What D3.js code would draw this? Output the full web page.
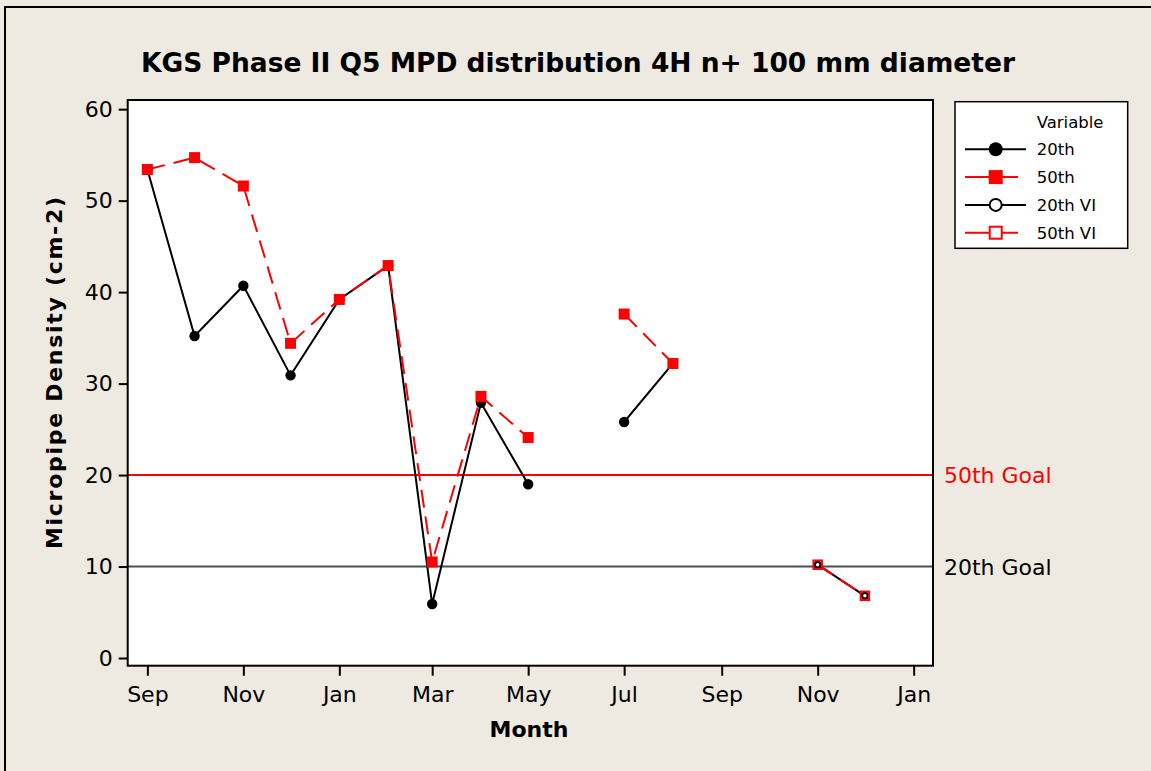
<!DOCTYPE html>
<html>
  <head>
    <meta charset="utf-8">
    <title>KGS Phase II Q5 MPD distribution</title>
    <script src="https://cdn.jsdelivr.net/npm/d3@7"></script>
    <style>
      body { margin: 0; background: #eeeae1; }
      svg { display: block; font-family: "DejaVu Sans", sans-serif; }
    </style>
  </head>

  <body>
    <div id="chart"></div>

    <script>
      // data
      const months = ["2008-09-01", "2008-10-01", "2008-11-01", "2008-12-01", "2009-01-01", "2009-02-01",
                      "2009-03-01", "2009-04-01", "2009-05-01", "2009-06-01", "2009-07-01", "2009-08-01"];
      const p20 = [53.4, 35.2, 40.7, 30.9, 39.2, 42.9, 5.9, 27.9, 19.0, null, 25.8, 32.2];
      const p50 = [53.4, 54.7, 51.6, 34.4, 39.2, 42.9, 10.5, 28.6, 24.1, null, 37.6, 32.2];
      const viMonths = ["2009-11-01", "2009-12-01"];
      const p20vi = [10.2, 6.8];
      const p50vi = [10.2, 6.8];
      const yTicks = [0, 10, 20, 30, 40, 50, 60];
      const goals = [{ label: "50th Goal", value: 20, colour: "#ff0000" },
                     { label: "20th Goal", value: 10, colour: "#4d4d4d" }];
      const legendNames = ["20th", "50th", "20th VI", "50th VI"];

      const width = 1151, height = 771;
      const plot = { left: 127.7, right: 933, top: 100, bottom: 665.7 };

      const svg = d3.select("#chart")
        .append("svg")
          .attr("width", width)
          .attr("height", height);

      // background + outer frame (top and left only visible)
      svg.append("rect")
        .attr("width", width)
        .attr("height", height)
        .attr("fill", "#eeeae1");
      svg.append("path")
        .attr("d", "M5," + height + "V7H" + width)
        .attr("fill", "none")
        .attr("stroke", "#000")
        .attr("stroke-width", 2);

      // scales
      const x = d3.scaleUtc()
        .domain([new Date(Date.UTC(2008, 7, 19, 12)), new Date(Date.UTC(2010, 0, 13, 7))])
        .range([plot.left, plot.right]);
      const y = d3.scaleLinear()
        .domain([-0.84, 61.0])
        .range([plot.bottom, plot.top]);

      // plot area
      svg.append("rect")
        .attr("x", plot.left)
        .attr("y", plot.top)
        .attr("width", plot.right - plot.left)
        .attr("height", plot.bottom - plot.top)
        .attr("fill", "#fff");

      // axes
      const xAxis = svg.append("g")
        .attr("transform", "translate(0," + plot.bottom + ")")
        .call(d3.axisBottom(x)
          .ticks(d3.utcMonth.every(2))
          .tickFormat(d3.utcFormat("%b"))
          .tickSize(10)
          .tickPadding(11));
      const yAxis = svg.append("g")
        .attr("transform", "translate(" + plot.left + ",0)")
        .call(d3.axisLeft(y)
          .tickValues(yTicks)
          .tickSize(9)
          .tickPadding(6));
      [xAxis, yAxis].forEach(function(a) {
        a.select(".domain").remove();
        a.selectAll(".tick line").attr("stroke", "#000").attr("stroke-width", 2);
        a.selectAll(".tick text")
          .attr("fill", "#000")
          .style("font-family", "DejaVu Sans")
          .style("font-size", "22px");
      });

      // goal lines
      goals.forEach(function(g) {
        svg.append("line")
          .attr("x1", plot.left)
          .attr("x2", plot.right)
          .attr("y1", y(g.value))
          .attr("y2", y(g.value))
          .attr("stroke", g.colour)
          .attr("stroke-width", 2);
        svg.append("text")
          .attr("x", plot.right + 11)
          .attr("y", y(g.value))
          .attr("dy", "0.37em")
          .attr("fill", g.colour == "#ff0000" ? "#ff0000" : "#000")
          .style("font-size", "22px")
          .text(g.label);
      });

      // series
      const main20 = months.map(function(m, i) { return { date: new Date(m), value: p20[i] }; });
      const main50 = months.map(function(m, i) { return { date: new Date(m), value: p50[i] }; });
      const vi20 = viMonths.map(function(m, i) { return { date: new Date(m), value: p20vi[i] }; });
      const vi50 = viMonths.map(function(m, i) { return { date: new Date(m), value: p50vi[i] }; });

      const line = d3.line()
        .defined(function(d) { return d.value != null; })
        .x(function(d) { return x(d.date); })
        .y(function(d) { return y(d.value); });

      const series = [
        { data: main20, colour: "#000", dash: null, marker: "dot" },
        { data: main50, colour: "#ff0000", dash: "18,9", marker: "square" },
        { data: vi20, colour: "#000", dash: null, marker: "ring" },
        { data: vi50, colour: "#ff0000", dash: "18,9", marker: "box" }
      ];

      function drawMarker(g, type, cx, cy, big) {
        let s = big ? 14 : 11;
        if (type == "dot") {
          g.append("circle").attr("cx", cx).attr("cy", cy).attr("r", big ? 7 : 5.2).attr("fill", "#000");
        } else if (type == "square") {
          g.append("rect").attr("x", cx - s / 2).attr("y", cy - s / 2).attr("width", s).attr("height", s)
            .attr("fill", "#ff0000");
        } else if (type == "ring") {
          g.append("circle").attr("cx", cx).attr("cy", cy).attr("r", big ? 6 : 3)
            .attr("fill", "#fff").attr("stroke", "#000").attr("stroke-width", 2);
        } else {
          s = big ? 12 : 8.5;
          g.append("rect").attr("x", cx - s / 2).attr("y", cy - s / 2).attr("width", s).attr("height", s)
            .attr("fill", big ? "#fff" : "none").attr("stroke", "#ff0000").attr("stroke-width", 2);
        }
      }

      series.forEach(function(s) {
        svg.append("path")
          .datum(s.data)
          .attr("d", line)
          .attr("fill", "none")
          .attr("stroke", s.colour)
          .attr("stroke-width", 2)
          .attr("stroke-dasharray", s.dash);
      });
      const markers = svg.append("g");
      series.forEach(function(s) {
        s.data.filter(function(d) { return d.value != null; }).forEach(function(d) {
          drawMarker(markers, s.marker, x(d.date), y(d.value), false);
        });
      });
      // open circle shows inside the open square for the VI points
      vi20.forEach(function(d) {
        markers.append("circle").attr("cx", x(d.date)).attr("cy", y(d.value)).attr("r", 2.5)
          .attr("fill", "#fff").attr("stroke", "#000").attr("stroke-width", 1.5);
      });

      // plot frame
      svg.append("rect")
        .attr("x", plot.left)
        .attr("y", plot.top)
        .attr("width", plot.right - plot.left)
        .attr("height", plot.bottom - plot.top)
        .attr("fill", "none")
        .attr("stroke", "#000")
        .attr("stroke-width", 2);

      // titles
      svg.append("text")
        .attr("x", 578)
        .attr("y", 72)
        .attr("text-anchor", "middle")
        .attr("textLength", 874)
        .attr("lengthAdjust", "spacing")
        .style("font-size", "26.5px")
        .style("font-weight", "bold")
        .text("KGS Phase II Q5 MPD distribution 4H n+ 100 mm diameter");
      svg.append("text")
        .attr("x", 529)
        .attr("y", 737)
        .attr("text-anchor", "middle")
        .style("font-size", "22px")
        .style("font-weight", "bold")
        .text("Month");
      svg.append("text")
        .attr("transform", "translate(62,373) rotate(-90)")
        .attr("text-anchor", "middle")
        .attr("textLength", 352)
        .attr("lengthAdjust", "spacing")
        .style("font-size", "22px")
        .style("font-weight", "bold")
        .text("Micropipe Density (cm-2)");

      // legend
      const legend = svg.append("g");
      legend.append("rect")
        .attr("x", 955)
        .attr("y", 101.7)
        .attr("width", 172.7)
        .attr("height", 146.6)
        .attr("fill", "#fff")
        .attr("stroke", "#000")
        .attr("stroke-width", 1.5);
      legend.append("text")
        .attr("x", 1036.7)
        .attr("y", 128)
        .style("font-size", "16.5px")
        .text("Variable");
      series.forEach(function(s, i) {
        let ly = 149.3 + i * 27.8;
        legend.append("line")
          .attr("x1", 965)
          .attr("x2", s.colour == "#000" ? 1026 : 1018)
          .attr("y1", ly)
          .attr("y2", ly)
          .attr("stroke", s.colour)
          .attr("stroke-width", 2);
        drawMarker(legend, s.marker, 995.7, ly, true);
        legend.append("text")
          .attr("x", 1036.7)
          .attr("y", ly)
          .attr("dy", "0.37em")
          .style("font-size", "16.5px")
          .text(legendNames[i]);
      });
    </script>
  </body>
</html>
